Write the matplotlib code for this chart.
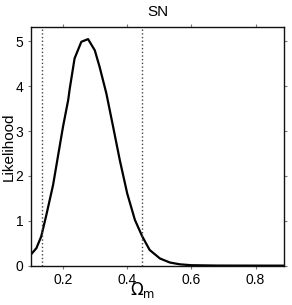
import matplotlib
matplotlib.use('Agg')
import matplotlib.pyplot as plt

# curva de verossimilhanca
omega_m = [0.099, 0.117, 0.132, 0.148, 0.169, 0.184, 0.200, 0.216, 0.221, 0.236,
           0.257, 0.278, 0.299, 0.314, 0.335, 0.356, 0.377, 0.400, 0.424, 0.447,
           0.470, 0.502, 0.533, 0.564, 0.600, 0.680, 0.890]
likelihood = [0.24, 0.39, 0.65, 1.13, 1.80, 2.43, 3.10, 3.69, 3.95, 4.62,
              4.99, 5.05, 4.80, 4.43, 3.84, 3.10, 2.35, 1.61, 1.02, 0.65,
              0.35, 0.16, 0.07, 0.03, 0.01, 0.002, 0.0]

# limites do intervalo (linhas pontilhadas)
limites = [0.133, 0.447]

xticks = [0.2, 0.4, 0.6, 0.8]
yticks = [0, 1, 2, 3, 4, 5]

plt.rcParams['font.family'] = ['Liberation Sans', 'DejaVu Sans']

fig = plt.figure(figsize=(2.92, 3.05), dpi=100)
ax = fig.add_axes([0.106, 0.129, 0.868, 0.781])

ax.plot(omega_m, likelihood, color='black', linewidth=1.6)
for lim in limites:
    ax.axvline(lim, color='#444444', linestyle=':', linewidth=1.0)

ax.set_xlim(0.1, 0.89)
ax.set_ylim(0, 5.31)
ax.set_xticks(xticks)
ax.set_xticklabels(['0.2', '0.4', '0.6', '0.8'])
ax.set_yticks(yticks)
ax.tick_params(direction='out', top=True, right=True, length=2, width=0.8,
               color='#777777', labelsize=10)
ax.tick_params(axis='x', pad=3.5)
ax.tick_params(axis='y', pad=3.5)
for s in ax.spines.values():
    s.set_linewidth(1.0)
    s.set_color('#111111')

ax.set_title('SN', fontsize=11, pad=8)
ax.set_xlabel(r'$\Omega_{\mathrm{m}}$', fontsize=12)
ax.xaxis.set_label_coords(0.44, -0.06)
ax.set_ylabel('Likelihood', fontsize=11)
ax.yaxis.set_label_coords(-0.06, 0.5)

fig.savefig('out.png', dpi=100)
